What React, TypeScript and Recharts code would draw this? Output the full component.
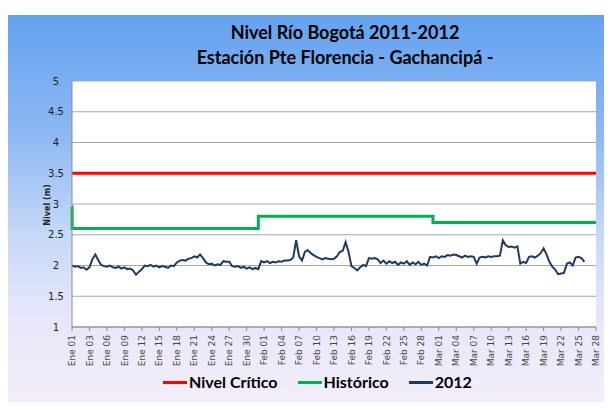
import React from "react";
import { LineChart, Line, XAxis, YAxis, CartesianGrid } from "recharts";

// Nivel diario (dos lecturas por día) estación Pte Florencia, 2012
const valores2012 = [
  2.0, 1.98, 1.99, 1.96, 1.97, 1.93, 1.97, 2.1, 2.18, 2.09,
  2.01, 1.99, 1.98, 2.0, 1.97, 1.96, 1.98, 1.95, 1.97, 1.94,
  1.95, 1.92, 1.85, 1.9, 1.94, 2.0, 1.99, 2.01, 1.98, 2.0,
  1.97, 1.99, 1.98, 1.96, 2.0, 1.99, 2.05, 2.08, 2.09, 2.08,
  2.11, 2.12, 2.15, 2.13, 2.18, 2.12, 2.05, 2.02, 2.03, 2.0,
  2.02, 2.01, 2.07, 2.06, 2.06, 1.99, 1.98, 1.99, 1.96, 1.98,
  1.95, 1.97, 1.94, 1.96, 1.94, 2.07, 2.05, 2.07, 2.04, 2.06,
  2.05, 2.07, 2.06, 2.08, 2.08, 2.09, 2.13, 2.41, 2.15, 2.08,
  2.22, 2.25, 2.2, 2.17, 2.14, 2.12, 2.1, 2.12, 2.11, 2.1,
  2.11, 2.15, 2.22, 2.24, 2.38, 2.22, 1.99, 1.96, 1.92, 1.97,
  2.01, 1.99, 2.12, 2.11, 2.12, 2.1, 2.04, 2.08, 2.03, 2.07,
  2.04, 2.06, 2.01, 2.05, 2.03, 2.07, 2.01, 2.05, 2.02, 2.06,
  2.01, 2.03, 2.0, 2.14, 2.13, 2.15, 2.12, 2.15, 2.14, 2.17,
  2.16, 2.18, 2.17, 2.15, 2.13, 2.16, 2.14, 2.15, 2.14, 2.03,
  2.13, 2.14, 2.13, 2.15, 2.14, 2.15, 2.15, 2.16, 2.41, 2.33,
  2.3, 2.31, 2.29, 2.31, 2.03, 2.06, 2.04, 2.14, 2.15, 2.13,
  2.16, 2.2, 2.28, 2.18, 2.06, 1.98, 1.93, 1.86, 1.87, 1.88,
  2.03, 2.05, 2.0, 2.13, 2.14, 2.12, 2.06,
];

const etiquetasX = [
  "Ene 01", "Ene 03", "Ene 06", "Ene 09", "Ene 12", "Ene 15", "Ene 18", "Ene 21",
  "Ene 24", "Ene 27", "Ene 30", "Feb 01", "Feb 04", "Feb 07", "Feb 10", "Feb 13",
  "Feb 16", "Feb 19", "Feb 22", "Feb 25", "Feb 28", "Mar 01", "Mar 04", "Mar 07",
  "Mar 10", "Mar 13", "Mar 16", "Mar 19", "Mar 22", "Mar 25", "Mar 28",
];

const ticksY = [1, 1.5, 2, 2.5, 3, 3.5, 4, 4.5, 5];

const nivelCritico = 3.5;
const historicoX = [0, 0.05, 64, 124, 180];
const historicoV = [2.95, 2.6, 2.8, 2.7, 2.7];

const PASO = 6; // lecturas entre etiquetas
const FIN = (etiquetasX.length - 1) * PASO;

const datos2012 = valores2012.map((v, i) => ({ x: i, v }));
const datosHistorico = historicoX.map((x, i) => ({ x, v: historicoV[i] }));
const datosCritico = [{ x: 0, v: nivelCritico }, { x: FIN, v: nivelCritico }];

const ticksX = etiquetasX.map((_, i) => i * PASO);

const leyenda = [
  { nombre: "Nivel Crítico", color: "#ff0000" },
  { nombre: "Histórico", color: "#00b050" },
  { nombre: "2012", color: "#1f3864" },
];

function TickFecha({ x, y, payload }: { x?: number; y?: number; payload?: { value: number } }) {
  const idx = Math.round((payload?.value ?? 0) / PASO);
  return (
    <text
      transform={`translate(${x},${(y ?? 0) + 2}) rotate(-90)`}
      textAnchor="end"
      dy="0.35em"
      fontSize={9}
      fontFamily="DejaVu Sans"
      fill="#444"
    >
      {etiquetasX[idx]}
    </text>
  );
}

function Leyenda() {
  return (
    <div
      style={{
        position: "absolute",
        left: 163,
        top: 371,
        display: "flex",
        alignItems: "center",
        fontFamily: "Lato",
        fontWeight: 700,
        fontSize: 16,
        lineHeight: "22px",
        color: "#000",
      }}
    >
      {leyenda.map((l) => (
        <div key={l.nombre} style={{ display: "flex", alignItems: "center", marginRight: 20 }}>
          <span style={{ display: "inline-block", width: 24, height: 3, background: l.color, marginRight: 2 }} />
          <span>{l.nombre}</span>
        </div>
      ))}
    </div>
  );
}

export default function App() {
  return (
    <div style={{ position: "relative", width: 612, height: 410, margin: -8, background: "#fff", overflow: "hidden" }}>
      <div style={{ position: "absolute", left: 0, top: 33, width: 8, height: 377, background: "#c4c4c4" }} />
      <div
        style={{
          position: "absolute",
          left: 8,
          top: 15,
          width: 604,
          height: 395,
          background: "linear-gradient(180deg, #64a2ef 0%, #8db8f3 30%, #c4d8f7 55%, #e6e6fa 75%, #f4eff9 100%)",
        }}
      />
      <div
        style={{
          position: "absolute",
          left: 145,
          top: 20,
          width: 400,
          textAlign: "center",
          fontFamily: "Lato",
          fontWeight: 700,
          fontSize: 18,
          lineHeight: "25px",
          color: "#000",
        }}
      >
        <div>Nivel Río Bogotá 2011-2012</div>
        <div>Estación Pte Florencia - Gachancipá -</div>
      </div>
      <div
        style={{
          position: "absolute",
          left: 47,
          top: 205,
          transform: "translate(-50%,-50%) rotate(-90deg)",
          fontFamily: "DejaVu Sans",
          fontWeight: 700,
          fontSize: 8,
          color: "#222",
          whiteSpace: "nowrap",
        }}
      >
        Nivel (m)
      </div>
      <div style={{ position: "absolute", left: 0, top: 0 }}>
        <LineChart width={612} height={410} margin={{ top: 81, right: 16, bottom: 43, left: 0 }}>
          <CartesianGrid vertical={false} stroke="#a6a6a6" fill="#ffffff" fillOpacity={1} />
          <XAxis
            type="number"
            dataKey="x"
            domain={[0, FIN]}
            ticks={ticksX}
            interval={0}
            height={40}
            tick={<TickFecha />}
            axisLine={{ stroke: "#8c8c8c" }}
            tickLine={{ stroke: "#8c8c8c" }}
            tickSize={4}
          />
          <YAxis
            type="number"
            domain={[1, 5]}
            ticks={ticksY}
            width={72}
            interval={0}
            axisLine={{ stroke: "#8c8c8c" }}
            tickLine={false}
            tick={{ fontSize: 10, fontFamily: "DejaVu Sans", fill: "#222", textAnchor: "middle", dx: -8 }}
          />
          <Line data={datosCritico} dataKey="v" stroke="#ff0000" strokeWidth={3} dot={false} isAnimationActive={false} />
          <Line data={datosHistorico} dataKey="v" type="stepAfter" stroke="#00b050" strokeWidth={3} dot={false} isAnimationActive={false} />
          <Line data={datos2012} dataKey="v" stroke="#1f3864" strokeWidth={2} dot={false} isAnimationActive={false} />
        </LineChart>
      </div>
      <Leyenda />
    </div>
  );
}
